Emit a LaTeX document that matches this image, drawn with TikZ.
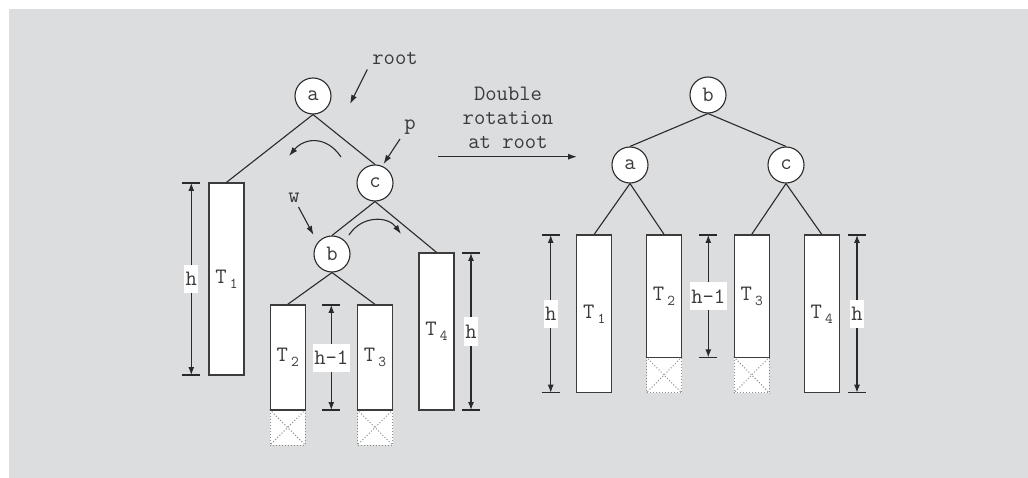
\documentclass[tikz,border=0pt]{standalone}
\usetikzlibrary{arrows.meta}
\definecolor{bg}{HTML}{DCDDDF}
\definecolor{ink}{HTML}{2A2A2A}
\definecolor{txt}{HTML}{3A3A3A}
\definecolor{boxline}{HTML}{3C3C3C}
\definecolor{dotline}{HTML}{8A8A8A}
\newcommand\Tsub[1]{T\kern3pt\raisebox{-5pt}{\fontsize{15}{15}\selectfont #1}}
\newcommand\dimbar[5]{%
  \coordinate (#5t) at (#1,#2);
  \coordinate (#5b) at (#1,#3);
  \draw[dimtick] ([xshift=-9pt]#5t) -- ([xshift=9pt]#5t);
  \draw[dimtick] ([xshift=-9pt]#5b) -- ([xshift=9pt]#5b);
  \draw[dimline] (#5t) -- (#5b) node[midway, dimlabel] (#5l) {#4};
}
\begin{document}
\begin{tikzpicture}[x=1pt,y=-1pt,
  font=\ttfamily\fontsize{22}{24}\selectfont,
  every node/.style={text=txt},
  circ/.style={circle, draw=ink, fill=white, line width=1.1pt, minimum size=36pt, inner sep=0pt},
  tbox/.style={rectangle, draw=boxline, fill=white, line width=1.3pt, minimum width=35pt, inner sep=0pt},
  xbox/.style={rectangle, draw=dotline, fill=white, dotted, line width=1pt, minimum width=35pt, minimum height=35pt, inner sep=0pt},
  link/.style={draw=ink, line width=1.1pt},
  ptr/.style={draw=ink, line width=1.1pt, -{Latex[length=9pt,width=6pt]}},
  dimline/.style={draw=ink, line width=1.1pt, {Latex[length=8pt,width=6pt]}-{Latex[length=8pt,width=6pt]}},
  dimtick/.style={draw=ink, line width=1.1pt},
  dimlabel/.style={fill=white, inner xsep=1.5pt, inner ysep=1pt, text height=20pt, text depth=6pt},
  diag/.style={draw=dotline, dotted, line width=1pt}
]
\useasboundingbox (0,0) rectangle (1028,478);
\fill[bg] (9,9) rectangle (1028,478);

% ---------- left tree ----------
\node[circ] (a) at (313,96) {a};
\node[circ] (c) at (375,183) {c};
\node[circ] (b) at (332,254) {b};

\node[xbox] (X2) at (287.7,427.5) {};
\node[xbox] (X3) at (375,427.5) {};
\draw[diag] (X2.north west) -- (X2.south east) (X2.north east) -- (X2.south west);
\draw[diag] (X3.north west) -- (X3.south east) (X3.north east) -- (X3.south west);

\node[tbox, minimum height=192pt] (T1) at (226.5,279) {\Tsub{1}};
\node[tbox, minimum height=105pt] (T2) at (287.7,357.5) {\Tsub{2}};
\node[tbox, minimum height=105pt] (T3) at (375,357.5) {\Tsub{3}};
\node[tbox, minimum height=157pt] (T4) at (436.5,331.5) {\Tsub{4}};

\draw[link] (a.south) -- (T1.north);
\draw[link] (a.south) -- (c.north);
\draw[link] (c.south) -- (b.north);
\draw[link] (c.south) -- (T4.north);
\draw[link] (b.south) -- (T2.north);
\draw[link] (b.south) -- (T3.north);

\node[anchor=base] (rootlbl) at (395,65) {root};
\coordinate (roots) at (367.3,69.5);
\coordinate (rootp) at (350,104);
\draw[ptr] (roots) -- (rootp);
\node[anchor=base] (plbl) at (410,130) {p};
\coordinate (ps) at (400,139);
\coordinate (pp) at (383.5,164);
\draw[ptr] (ps) -- (pp);
\node[anchor=base] (wlbl) at (294,203) {w};
\coordinate (ws) at (298.5,207);
\coordinate (wp) at (313.5,235);
\draw[ptr] (ws) -- (wp);

\coordinate (r1s) at (341,157);
\coordinate (r1e) at (289,156);
\draw[ptr] (r1s) .. controls (327,136) and (305,137) .. (r1e);
\coordinate (r2s) at (349,235);
\coordinate (r2e) at (401,234);
\draw[ptr] (r2s) .. controls (362,215) and (388,216) .. (r2e);

\dimbar{191.3}{183}{375}{h}{dA}
\dimbar{331.3}{305}{410}{h-1}{dB}
\dimbar{471}{253}{410}{h}{dC}

% ---------- middle ----------
\node[align=center, anchor=base] (dr) at (508,148.3) {Double\\rotation\\at root};
\coordinate (drs) at (438,156.7);
\coordinate (dre) at (577,156.7);
\draw[ptr] (drs) -- (dre);

% ---------- right tree ----------
\node[circ] (rb) at (708,95) {b};
\node[circ] (ra) at (630,165) {a};
\node[circ] (rc) at (786,165) {c};

\node[xbox, minimum height=35.4pt] (RX2) at (664,375) {};
\node[xbox, minimum height=35.4pt] (RX3) at (751.7,375) {};
\draw[diag] (RX2.north west) -- (RX2.south east) (RX2.north east) -- (RX2.south west);
\draw[diag] (RX3.north west) -- (RX3.south east) (RX3.north east) -- (RX3.south west);

\node[tbox, minimum height=157.7pt] (RT1) at (594.2,313.85) {\Tsub{1}};
\node[tbox, minimum height=122.3pt] (RT2) at (664,296.15) {\Tsub{2}};
\node[tbox, minimum height=122.3pt] (RT3) at (751.7,296.15) {\Tsub{3}};
\node[tbox, minimum height=157.7pt] (RT4) at (821.7,313.85) {\Tsub{4}};

\draw[link] (rb.south) -- (ra.north);
\draw[link] (rb.south) -- (rc.north);
\draw[link] (ra.south) -- (RT1.north);
\draw[link] (ra.south) -- (RT2.north);
\draw[link] (rc.south) -- (RT3.north);
\draw[link] (rc.south) -- (RT4.north);

\dimbar{550.7}{235}{392.7}{h}{dD}
\dimbar{708.3}{235}{357.3}{h-1}{dE}
\dimbar{857}{235}{392.7}{h}{dF}
\end{tikzpicture}
\end{document}
